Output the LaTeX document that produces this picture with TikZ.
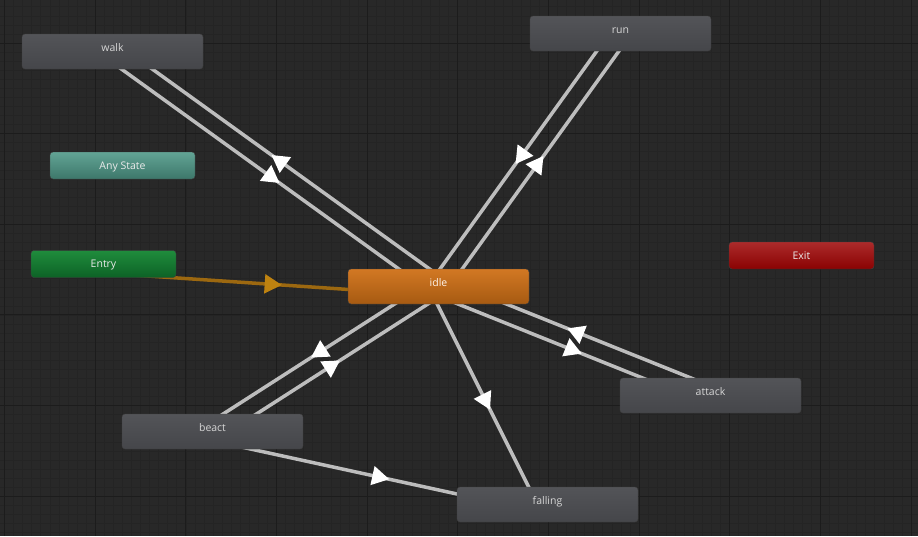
\documentclass[tikz,border=0pt]{standalone}
\usepackage{fontspec}
\setmainfont{Open Sans}
\usetikzlibrary{calc,decorations.markings}
\definecolor{bg}{HTML}{282828}
\definecolor{minorgrid}{HTML}{242424}
\definecolor{majorgrid}{HTML}{1c1c1c}
\definecolor{graytop}{HTML}{535458}
\definecolor{graybot}{HTML}{45464A}
\definecolor{orangetop}{HTML}{D27823}
\definecolor{orangebot}{HTML}{A65A12}
\definecolor{tealtop}{HTML}{62A495}
\definecolor{tealbot}{HTML}{3D776A}
\definecolor{greentop}{HTML}{1F8C3C}
\definecolor{greenbot}{HTML}{0D6226}
\definecolor{redtop}{HTML}{AC2B2B}
\definecolor{redbot}{HTML}{8A0202}
\definecolor{linegray}{HTML}{BDBDBD}
\definecolor{entryline}{HTML}{9C6810}
\definecolor{entryarrow}{HTML}{BE8210}
\definecolor{labelgray}{HTML}{D6D6D6}
\newcommand\unitytrans[3][tline]{\draw[#1] ($(#2.center)!9pt!-90:(#3.center)$) -- ($(#3.center)!9pt!90:(#2.center)$);}
\begin{document}
\begin{tikzpicture}[x=1pt,y=-1pt,
  minorline/.style={draw=minorgrid, line width=0.6pt},
  majorline/.style={draw=majorgrid, line width=1pt},
  statebox/.style={rounded corners=3pt, minimum width=181pt, minimum height=35pt,
    inner xsep=0pt, inner ysep=0pt, text height=17pt, text depth=18pt,
    font=\fontsize{10.5}{12}\selectfont, text=labelgray, draw=black!75, line width=0.4pt,
    top color=graytop, bottom color=graybot},
  specialbox/.style={statebox, minimum width=145pt, minimum height=27pt,
    text height=17pt, text depth=10pt},
  tline/.style={draw=linegray, line width=3.5pt, postaction={decorate},
    decoration={markings, mark=at position 0.5 with {\fill[white] (11.3pt,0pt) -- (-5.7pt,9.8pt) -- (-5.7pt,-9.8pt) -- cycle;}}},
  eline/.style={draw=entryline, line width=3.5pt, postaction={decorate},
    decoration={markings, mark=at position 0.5 with {\fill[entryarrow] (11.3pt,0pt) -- (-5.7pt,9.8pt) -- (-5.7pt,-9.8pt) -- cycle;}}}
]
\useasboundingbox (0,0) rectangle (918,536);
\fill[bg] (0,0) rectangle (918,536);
\foreach \i in {0,...,101} { \draw[minorline] ({4.5+9.065*\i},0) -- ({4.5+9.065*\i},536); }
\foreach \i in {0,...,58} { \draw[minorline] (0,{6.74+9.065*\i}) -- (918,{6.74+9.065*\i}); }
\foreach \i in {0,...,10} { \draw[majorline] ({4.5+90.65*\i},0) -- ({4.5+90.65*\i},536); }
\foreach \i in {0,...,5} { \draw[majorline] (0,{43+90.65*\i}) -- (918,{43+90.65*\i}); }

% coordinates for node centres (states drawn later, on top)
\coordinate (cwalk) at (112.5,51.5);
\coordinate (crun) at (620.5,33.5);
\coordinate (cany) at (122.5,165.5);
\coordinate (centry) at (103.5,264);
\coordinate (cidle) at (438.5,286.5);
\coordinate (cexit) at (801.5,255.5);
\coordinate (cattack) at (710.5,395.5);
\coordinate (cbeact) at (212.5,431.5);
\coordinate (cfalling) at (547.5,504.5);

\unitytrans[eline]{centry}{cidle}
\unitytrans{cwalk}{cidle}
\unitytrans{cidle}{cwalk}
\unitytrans{crun}{cidle}
\unitytrans{cidle}{crun}
\unitytrans{cidle}{cattack}
\unitytrans{cattack}{cidle}
\unitytrans{cidle}{cbeact}
\unitytrans{cbeact}{cidle}
\unitytrans{cidle}{cfalling}
\unitytrans{cbeact}{cfalling}

\node[statebox] (walk) at (cwalk) {walk};
\node[statebox] (run) at (crun) {run};
\node[specialbox, top color=tealtop, bottom color=tealbot, text=white!92!black] (any) at (cany) {Any State};
\node[specialbox, top color=greentop, bottom color=greenbot, text=white!92!black] (entry) at (centry) {Entry};
\node[statebox, top color=orangetop, bottom color=orangebot, text=white!92!orange] (idle) at (cidle) {idle};
\node[specialbox, top color=redtop, bottom color=redbot, text=white!92!black] (exit) at (cexit) {Exit};
\node[statebox] (attack) at (cattack) {attack};
\node[statebox] (beact) at (cbeact) {beact};
\node[statebox] (falling) at (cfalling) {falling};
\end{tikzpicture}
\end{document}
